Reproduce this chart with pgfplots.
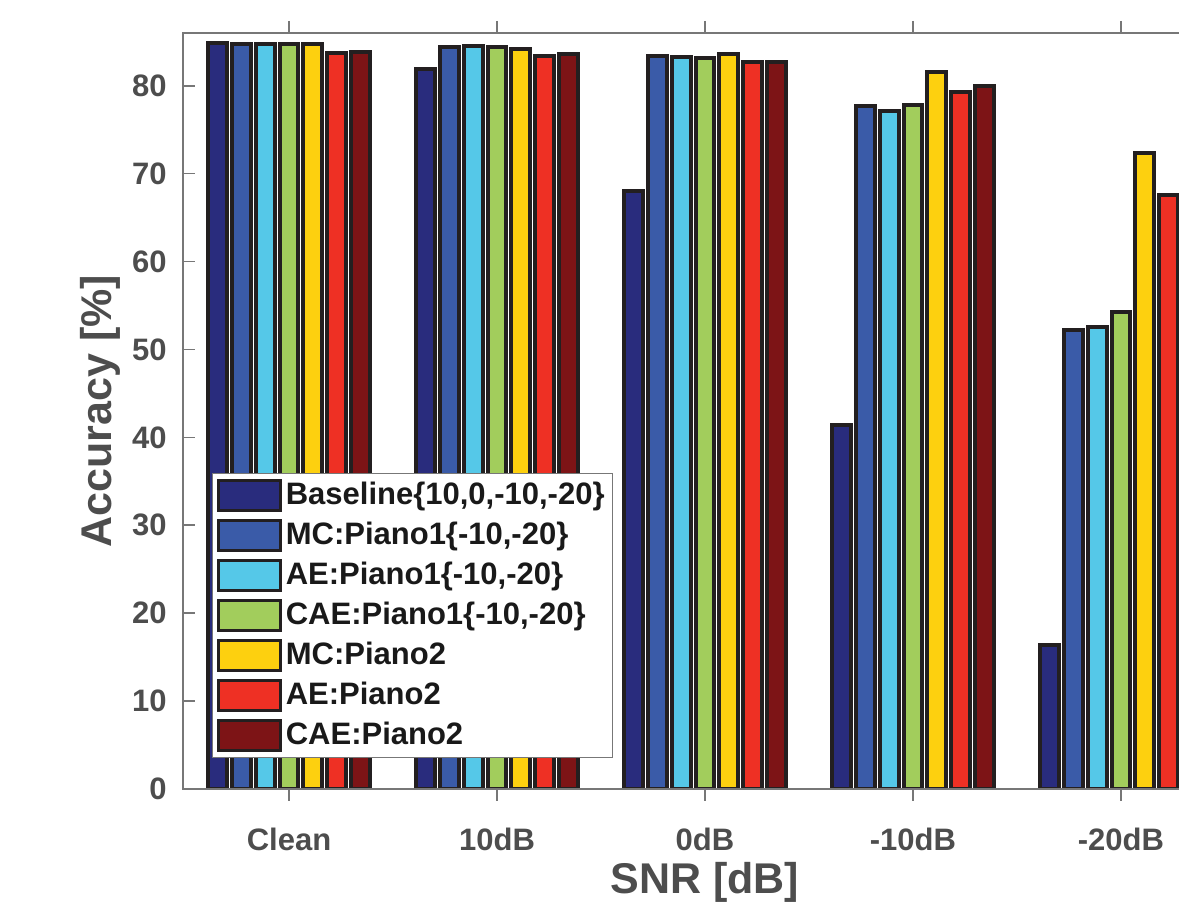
\documentclass[border=0pt]{standalone}
\usepackage{fontspec}
\setmainfont{Liberation Sans}
\usepackage{pgfplots}
\pgfplotsset{compat=1.18}

\definecolor{cBase}{HTML}{292C7D}
\definecolor{cMCa}{HTML}{3A5BA8}
\definecolor{cAEa}{HTML}{55C8E8}
\definecolor{cCAEa}{HTML}{A2CD5C}
\definecolor{cMCb}{HTML}{FDD00F}
\definecolor{cAEb}{HTML}{EE3024}
\definecolor{cCAEb}{HTML}{7D1416}
\definecolor{edge}{HTML}{231F20}
\definecolor{txtgray}{HTML}{4D4D4D}
\definecolor{axgray}{HTML}{777777}

\begin{document}
\begin{tikzpicture}
% the reference is cut off on the right, so clip the same way
\path[use as bounding box] (-91.5pt,-57pt) rectangle (498pt,394.5pt);
\clip (-91.5pt,-57pt) rectangle (498pt,394.5pt);
\begin{axis}[
  at={(0pt,0pt)}, anchor=south west,
  scale only axis, width=522pt, height=378pt,
  xmin=0.49, xmax=5.51, ymin=0, ymax=86,
  enlargelimits=false,
  ybar=2.5pt, bar width=9.4pt,
  every axis plot post/.append style={
    draw=edge, line width=2pt,
    legend image code/.code={\draw[##1, line width=1.6pt] (0pt,-7.5pt) rectangle (31pt,7.5pt);}
  },
  xtick={1,2,3,4,5},
  xticklabels={Clean,10dB,0dB,-10dB,-20dB},
  ytick={0,10,...,80},
  major tick length=6pt,
  tick style={draw=axgray, line width=0.8pt},
  axis line style={draw=axgray, line width=0.8pt},
  axis on top,
  /pgf/number format/assume math mode=true,
  ticklabel style={font=\fontsize{15.5}{18}\selectfont\bfseries, text=txtgray},
  xticklabel style={anchor=base, yshift=-25pt},
  yticklabel style={anchor=east, inner sep=0pt, xshift=-8pt},
  xlabel={SNR [dB]}, ylabel={Accuracy [\%]},
  every axis x label/.style={at={(axis description cs:0.5,0)}, anchor=center, yshift=-46.5pt,
    font=\fontsize{21.5}{26}\selectfont\bfseries, text=txtgray},
  every axis y label/.style={at={(axis description cs:0,0.5)}, rotate=90, anchor=center, yshift=41.5pt,
    font=\fontsize{21.5}{26}\selectfont\bfseries, text=txtgray},
  legend cell align=left,
  legend style={at={(0.0278,0.041)}, anchor=south west,
    draw=axgray, line width=0.6pt, fill=white,
    font=\fontsize{15.5}{18}\selectfont\bfseries, text=black!90,
    inner xsep=2pt, inner ysep=1pt, row sep=0pt,
    nodes={inner ysep=1pt, text height=13.5pt, text depth=4.5pt},
    /tikz/every even column/.append style={column sep=2pt}},
]
\addplot[fill=cBase] coordinates {(1,84.9) (2,81.9) (3,68.0) (4,41.4) (5,16.4)};
\addlegendentry{Baseline\{10,0,-10,-20\}}
\addplot[fill=cMCa] coordinates {(1,84.8) (2,84.4) (3,83.4) (4,77.7) (5,52.2)};
\addlegendentry{MC:Piano1\{-10,-20\}}
\addplot[fill=cAEa] coordinates {(1,84.7) (2,84.5) (3,83.3) (4,77.1) (5,52.6)};
\addlegendentry{AE:Piano1\{-10,-20\}}
\addplot[fill=cCAEa] coordinates {(1,84.7) (2,84.4) (3,83.2) (4,77.8) (5,54.3)};
\addlegendentry{CAE:Piano1\{-10,-20\}}
\addplot[fill=cMCb] coordinates {(1,84.7) (2,84.2) (3,83.6) (4,81.6) (5,72.3)};
\addlegendentry{MC:Piano2}
\addplot[fill=cAEb] coordinates {(1,83.7) (2,83.4) (3,82.7) (4,79.3) (5,67.6)};
\addlegendentry{AE:Piano2}
\addplot[fill=cCAEb] coordinates {(1,83.8) (2,83.6) (3,82.7) (4,80.0) (5,67.0)};
\addlegendentry{CAE:Piano2}
\end{axis}
\end{tikzpicture}
\end{document}
